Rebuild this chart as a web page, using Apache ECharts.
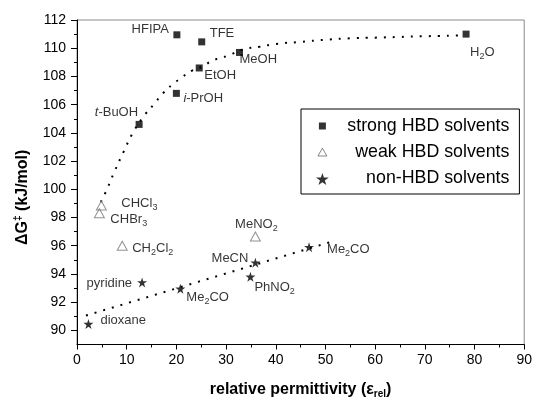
<!DOCTYPE html>
<html>
<head>
<meta charset="utf-8">
<script src="https://cdn.jsdelivr.net/npm/echarts@6/dist/echarts.min.js"></script>
<style>
html,body{margin:0;padding:0;background:#fff;}
#c{width:535px;height:404px;}
</style>
</head>
<body>
<div id="c"></div>
<script>
// ---- data ----
var strongNames = ['HFIPA', 'TFE', 'EtOH', 'i-PrOH', 't-BuOH', 'MeOH', 'H2O'];
var strongX = [20.1, 25.1, 24.6, 20.0, 12.5, 32.7, 78.3];
var strongY = [110.95, 110.45, 108.6, 106.8, 104.6, 109.7, 111.0];

var weakNames = ['CHCl3', 'CHBr3', 'CH2Cl2', 'MeNO2'];
var weakX = [4.9, 4.5, 9.1, 35.9];
var weakY = [98.85, 98.3, 96.0, 96.65];

var nonNames = ['pyridine', 'Me2CO-a', 'MeCN', 'PhNO2', 'dioxane', 'Me2CO-b'];
var nonX = [13.1, 20.8, 35.9, 34.9, 2.3, 46.7];
var nonY = [93.4, 92.95, 94.8, 93.8, 90.45, 95.9];

// dotted fit curves
var fit1X = [4.8, 5.9, 7.6, 9.3, 11.4, 13.7, 15.4, 17.3, 19.1, 21.0, 23.1, 25.3, 27.1, 28.8, 30.6, 33.3, 36.7, 40, 45, 50, 55, 60, 65, 70, 77];
var fit1Y = [99.1, 99.9, 101.3, 102.6, 104.1, 105.3, 106.0, 106.8, 107.4, 107.9, 108.4, 108.7, 109.1, 109.3, 109.5, 109.9, 110.1, 110.3, 110.45, 110.6, 110.7, 110.75, 110.8, 110.85, 110.9];
var fit2X = [1.8, 50.9];
var fit2Y = [91.05, 96.25];

var xTicks = [0, 10, 20, 30, 40, 50, 60, 70, 80, 90];
var yTicks = [90, 92, 94, 96, 98, 100, 102, 104, 106, 108, 110, 112];
var yMinor = [91, 93, 95, 97, 99, 101, 103, 105, 107, 109, 111];

var seriesNames = ['strong HBD solvents', 'weak HBD solvents', 'non-HBD solvents'];

// label texts (rich markup for subscripts / italics)
var labelText = {
  'HFIPA': 'HFIPA', 'TFE': 'TFE', 'EtOH': 'EtOH', 'i-PrOH': '{i|i}-PrOH', 't-BuOH': '{i|t}-BuOH',
  'MeOH': 'MeOH', 'H2O': 'H{s|2}O',
  'CHCl3': 'CHCl{s|3}', 'CHBr3': 'CHBr{s|3}', 'CH2Cl2': 'CH{s|2}Cl{s|2}', 'MeNO2': 'MeNO{s|2}',
  'pyridine': 'pyridine', 'Me2CO-a': 'Me{s|2}CO', 'MeCN': 'MeCN', 'PhNO2': 'PhNO{s|2}',
  'dioxane': 'dioxane', 'Me2CO-b': 'Me{s|2}CO'
};

// ---- label placement (style) ----
var labelPos = {
  'HFIPA': ['right', -8, -5], 'TFE': ['left', 8, -8], 'EtOH': ['left', 5, 7],
  'i-PrOH': ['left', 7, 5], 't-BuOH': ['right', -1, -12], 'MeOH': ['left', 0, 7],
  'H2O': ['left', 4, 18],
  'CHCl3': ['left', 20, -2], 'CHBr3': ['left', 11, 6], 'CH2Cl2': ['left', 10, 3],
  'MeNO2': ['center', 1, -12],
  'pyridine': ['right', -10, 1], 'Me2CO-a': ['left', 6, 9], 'MeCN': ['right', -7, -4],
  'PhNO2': ['left', 4, 11], 'dioxane': ['left', 12, -4], 'Me2CO-b': ['left', 18, 2]
};

var FONT = 'Liberation Sans, Arial, sans-serif';
var rich = {
  s: {fontSize: 9, fontFamily: FONT, color: '#000', padding: [8, 0, 0, 0], lineHeight: 9},
  i: {fontSize: 13, fontFamily: FONT, color: '#000', fontStyle: 'italic', lineHeight: 15}
};

function buildPoints(names, xs, ys) {
  return names.map(function (n, k) {
    var p = labelPos[n];
    return {
      name: n,
      value: [xs[k], ys[k]],
      label: {
        show: true,
        formatter: labelText[n],
        position: ['50%', '50%'],
        offset: [p[1], p[2]],
        align: p[0],
        verticalAlign: 'middle',
        fontSize: 13,
        lineHeight: 15,
        fontFamily: FONT,
        color: '#000',
        rich: rich
      }
    };
  });
}

function zip(xs, ys) { return xs.map(function (x, k) { return [x, ys[k]]; }); }

var STAR = 'path://M50,0 L61.2,34.5 L97.6,34.5 L68.2,55.9 L79.4,90.5 L50,69.1 L20.6,90.5 L31.8,55.9 L2.4,34.5 L38.8,34.5 Z';
var ICON_SQ = 'path://M0,0 M14,14 M3.5,3.5 L10.5,3.5 L10.5,10.5 L3.5,10.5 Z';
var ICON_TRI = 'path://M0,0 M14,14 M7,3.2 L11.5,11 L2.5,11 Z';
var ICON_STAR = 'path://M0,0 M14,14 M7,2 L8.57,6.83 L13.66,6.83 L9.55,9.83 L11.12,14.66 L7,11.67 L2.88,14.66 L4.45,9.83 L0.34,6.83 L5.43,6.83 Z';

var chart = echarts.init(document.getElementById('c'), null, {renderer: 'canvas'});
chart.setOption({
  animation: false,
  backgroundColor: '#fff',
  textStyle: {fontFamily: FONT},
  grid: {left: 77, right: 8, top: 20, bottom: 55, show: true, borderColor: '#8a8a8a', borderWidth: 1, backgroundColor: 'transparent'},
  legend: {
    orient: 'vertical',
    left: 301, top: 109,
    padding: [8, 10, 7, 14],
    itemWidth: 14, itemHeight: 14, itemGap: 8,
    backgroundColor: '#fff',
    borderColor: '#000', borderWidth: 1,
    data: [
      {name: seriesNames[0], icon: ICON_SQ},
      {name: seriesNames[1], icon: ICON_TRI, itemStyle: {color: 'rgba(0,0,0,0)', borderColor: '#444', borderWidth: 0.8}},
      {name: seriesNames[2], icon: ICON_STAR}
    ],
    formatter: function (n) { return '{t|' + n + '}'; },
    textStyle: {
      rich: {t: {width: 175, align: 'right', fontSize: 17.8, lineHeight: 14, fontFamily: FONT, color: '#000'}}
    }
  },
  xAxis: {
    type: 'value', min: 0, max: 90, interval: 10,
    name: 'relative permittivity (ε{s|rel})',
    nameLocation: 'middle', nameGap: 37,
    nameTextStyle: {fontSize: 16, fontWeight: 'bold', fontFamily: FONT, color: '#000',
      rich: {s: {fontSize: 10, fontWeight: 'bold', fontFamily: FONT, color: '#000', padding: [9, 0, 0, 0], lineHeight: 10}}},
    axisLine: {show: true, lineStyle: {color: '#000', width: 1}},
    axisTick: {show: true, inside: false, length: 5, lineStyle: {color: '#000'}},
    minorTick: {show: true, splitNumber: 2, length: 3, lineStyle: {color: '#000'}},
    axisLabel: {fontSize: 14, color: '#000', margin: 9, fontFamily: FONT},
    splitLine: {show: false}
  },
  yAxis: [{
    type: 'value', min: 89, max: 112, interval: 1,
    name: 'ΔG{sup|‡} (kJ/mol)',
    nameLocation: 'middle', nameGap: 46, nameRotate: 90,
    nameTextStyle: {fontSize: 16, fontWeight: 'bold', fontFamily: FONT, color: '#000', padding: [0, 30, 0, 0],
      rich: {sup: {fontSize: 10, fontWeight: 'bold', fontFamily: FONT, color: '#000', padding: [0, 0, 8, 0], lineHeight: 10}}},
    axisLine: {show: true, onZero: false, lineStyle: {color: '#000', width: 1}},
    axisTick: {show: true, inside: false, length: 6, customValues: yTicks, lineStyle: {color: '#000'}},
    axisLabel: {fontSize: 14, color: '#000', margin: 11, customValues: yTicks, fontFamily: FONT},
    splitLine: {show: false}
  }, {
    type: 'value', min: 89, max: 112, interval: 1, position: 'left',
    axisLine: {show: false},
    axisTick: {show: true, inside: false, length: 3, customValues: yMinor, lineStyle: {color: '#000'}},
    axisLabel: {show: false},
    splitLine: {show: false}
  }],
  series: [
    {
      name: 'fit1', type: 'line', smooth: true, showSymbol: false, silent: true,
      data: zip(fit1X, fit1Y),
      lineStyle: {color: '#000', width: 2, type: [2, 7]}, z: 1
    },
    {
      name: 'fit2', type: 'line', showSymbol: false, silent: true,
      data: zip(fit2X, fit2Y),
      lineStyle: {color: '#000', width: 2, type: [2, 7]}, z: 1
    },
    {
      name: seriesNames[0], type: 'scatter', symbol: 'rect', symbolSize: 7,
      itemStyle: {color: '#000'},
      data: buildPoints(strongNames, strongX, strongY), z: 3
    },
    {
      name: seriesNames[1], type: 'scatter', symbol: 'triangle', symbolSize: [10, 9],
      itemStyle: {color: 'rgba(0,0,0,0)', borderColor: '#777', borderWidth: 1},
      data: buildPoints(weakNames, weakX, weakY), z: 3
    },
    {
      name: seriesNames[2], type: 'scatter', symbol: STAR, symbolSize: 10,
      itemStyle: {color: '#000'},
      data: buildPoints(nonNames, nonX, nonY), z: 3
    }
  ]
});
</script>
</body>
</html>
